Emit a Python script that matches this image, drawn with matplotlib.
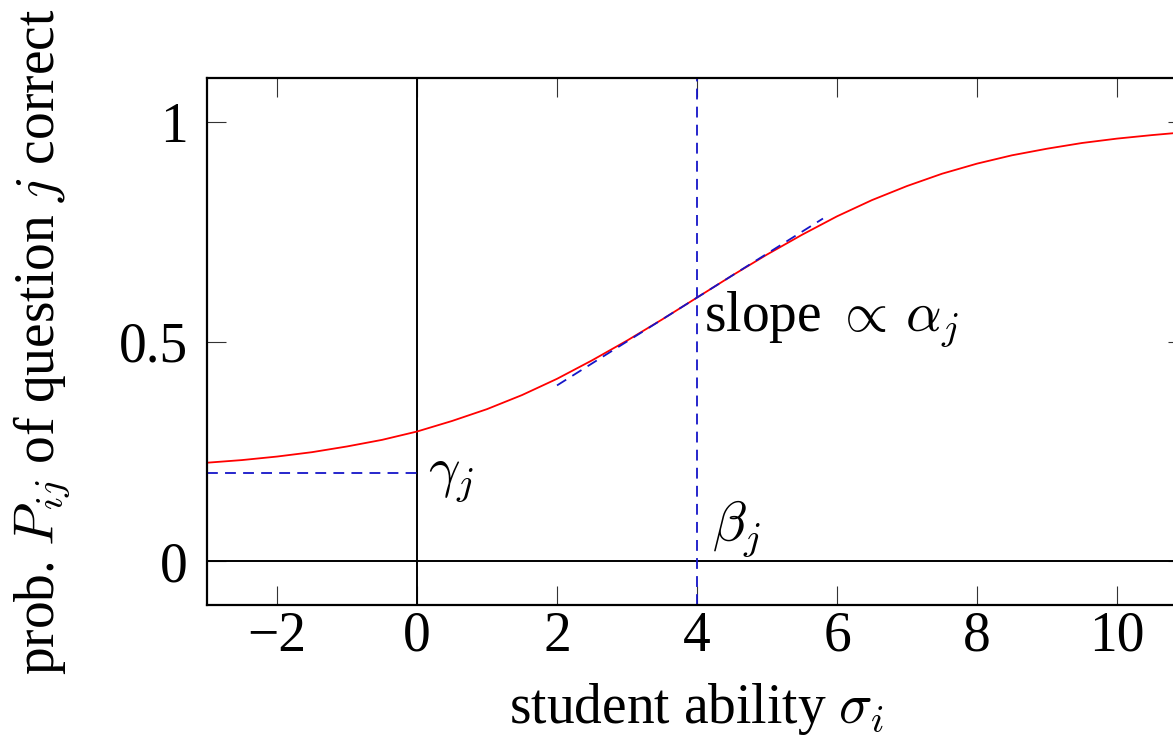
import matplotlib
matplotlib.use("Agg")
import matplotlib.pyplot as plt

# values
ability = [-3, -2.5, -2, -1.5, -1, -0.5, 0, 0.5, 1, 1.5, 2, 2.5, 3, 3.5, 4,
           4.5, 5, 5.5, 6, 6.5, 7, 7.5, 8, 8.5, 9, 9.5, 10, 10.5, 11]
prob_correct = [0.224, 0.230, 0.238, 0.248, 0.261, 0.276, 0.295, 0.319, 0.346,
                0.378, 0.415, 0.457, 0.502, 0.550, 0.600, 0.650, 0.698, 0.743,
                0.785, 0.822, 0.854, 0.882, 0.905, 0.924, 0.939, 0.952, 0.962,
                0.970, 0.977]
tangent_x = [2, 5.8]
tangent_y = [0.40, 0.78]
gamma_x = [-3, 0]
gamma_y = [0.2, 0.2]
beta = 4

xticks = [-2, 0, 2, 4, 6, 8, 10]
yticks = [0, 0.5, 1]
ytick_labels = ["0", "0.5", "1"]

plt.rcParams["font.family"] = ["Liberation Serif", "DejaVu Serif"]
plt.rcParams["mathtext.fontset"] = "cm"
FS = 40

fig = plt.figure(figsize=(11.73, 7.44), dpi=100)
ax = fig.add_axes([207 / 1173, 1 - 605 / 744, (1187 - 207) / 1173, (605 - 78) / 744])

blue = "#1515c8"
dash = (0, (6, 4))
ax.axhline(0, color="black", lw=1.4)
ax.axvline(0, color="black", lw=1.4)
ax.axvline(beta, color=blue, lw=1.3, ls=dash)
ax.plot(gamma_x, gamma_y, color=blue, lw=1.3, ls=dash)
ax.plot(ability, prob_correct, color="red", lw=1.3)
# tangent at beta, drawn over the curve
ax.plot(tangent_x, tangent_y, color=blue, lw=1.3, ls=dash, zorder=3)

ax.text(4.1, 0.524, r"slope $\propto\,\alpha_j$", fontsize=FS, va="baseline", ha="left")
ax.text(0.15, 0.19, r"$\gamma_j$", fontsize=FS, va="center", ha="left")
ax.text(4.22, 0.073, r"$\beta_j$", fontsize=FS, va="center", ha="left")

ax.set_xlim(-3, 11)
ax.set_ylim(-0.1, 1.1)
ax.set_xticks(xticks)
ax.set_yticks(yticks)
ax.set_yticklabels(ytick_labels)
ax.tick_params(direction="in", length=14, width=0.8, labelsize=FS,
               top=True, right=True, color="#333333")
ax.tick_params(axis="x", pad=4)
ax.tick_params(axis="y", pad=14)
for s in ax.spines.values():
    s.set_linewidth(1.6)

ax.set_xlabel(r"student ability $\sigma_i$", fontsize=FS)
ax.set_ylabel(r"prob. $P_{ij}$ of question $j$ correct", fontsize=FS)
ax.xaxis.set_label_coords(0.5, (605 - 681) / 527)
ax.yaxis.set_label_coords((72 - 207) / 980, 0.5)

fig.savefig("out.png", dpi=100)
